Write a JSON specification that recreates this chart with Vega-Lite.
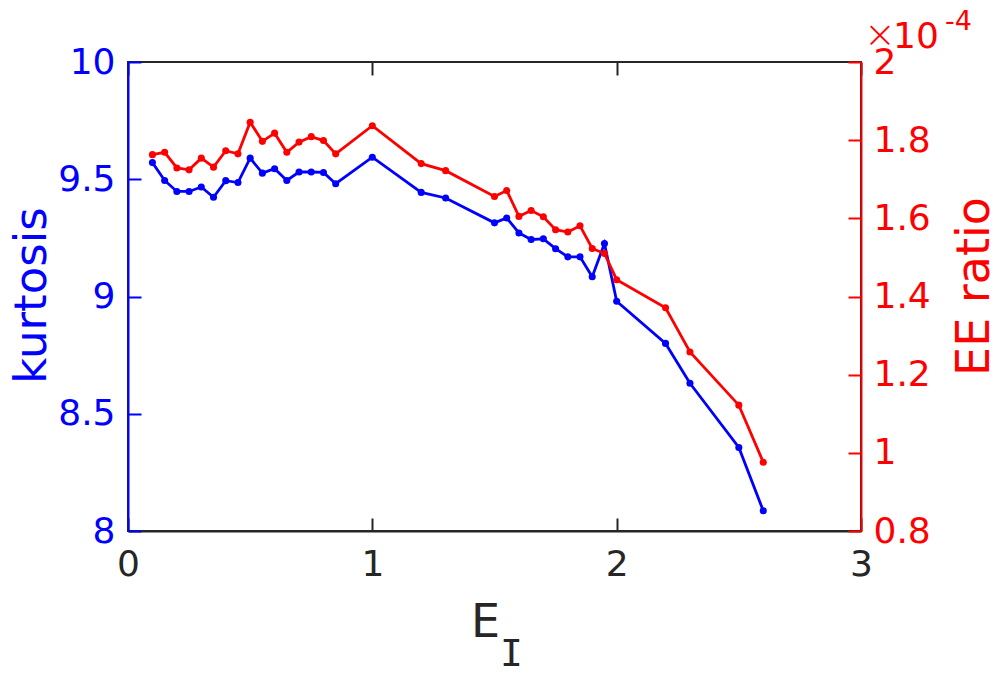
{
  "$schema": "https://vega.github.io/schema/vega-lite/v6.json",
  "width": 733,
  "height": 469,
  "autosize": {"type": "none"},
  "padding": {"left": 128, "top": 62, "right": 141, "bottom": 146},
  "background": "white",
  "config": {
    "view": {"stroke": "#262626", "strokeWidth": 2},
    "font": "DejaVu Sans",
    "axis": {
      "grid": false,
      "labelFont": "DejaVu Sans",
      "titleFont": "DejaVu Sans",
      "labelFontSize": 36,
      "titleFontSize": 45,
      "titleFontWeight": "normal",
      "domainWidth": 2,
      "tickWidth": 2,
      "tickSize": -13,
      "labelFlush": false,
      "labelOverlap": false
    }
  },
  "data": {
    "values": [
      {"E": 0.1, "kurtosis": 9.571, "ee": 1.763},
      {"E": 0.15, "kurtosis": 9.495, "ee": 1.769},
      {"E": 0.2, "kurtosis": 9.448, "ee": 1.729},
      {"E": 0.25, "kurtosis": 9.448, "ee": 1.724},
      {"E": 0.3, "kurtosis": 9.467, "ee": 1.754},
      {"E": 0.35, "kurtosis": 9.423, "ee": 1.731},
      {"E": 0.4, "kurtosis": 9.494, "ee": 1.773},
      {"E": 0.45, "kurtosis": 9.486, "ee": 1.765},
      {"E": 0.5, "kurtosis": 9.59, "ee": 1.846},
      {"E": 0.55, "kurtosis": 9.526, "ee": 1.797},
      {"E": 0.6, "kurtosis": 9.545, "ee": 1.818},
      {"E": 0.65, "kurtosis": 9.495, "ee": 1.769},
      {"E": 0.7, "kurtosis": 9.531, "ee": 1.795},
      {"E": 0.75, "kurtosis": 9.531, "ee": 1.809},
      {"E": 0.8, "kurtosis": 9.529, "ee": 1.799},
      {"E": 0.85, "kurtosis": 9.481, "ee": 1.765},
      {"E": 1.0, "kurtosis": 9.594, "ee": 1.837},
      {"E": 1.2, "kurtosis": 9.444, "ee": 1.74},
      {"E": 1.3, "kurtosis": 9.42, "ee": 1.722},
      {"E": 1.5, "kurtosis": 9.314, "ee": 1.656},
      {"E": 1.55, "kurtosis": 9.335, "ee": 1.671},
      {"E": 1.6, "kurtosis": 9.271, "ee": 1.605},
      {"E": 1.65, "kurtosis": 9.243, "ee": 1.62},
      {"E": 1.7, "kurtosis": 9.246, "ee": 1.604},
      {"E": 1.75, "kurtosis": 9.204, "ee": 1.571},
      {"E": 1.8, "kurtosis": 9.169, "ee": 1.565},
      {"E": 1.85, "kurtosis": 9.169, "ee": 1.581},
      {"E": 1.9, "kurtosis": 9.084, "ee": 1.523},
      {"E": 1.95, "kurtosis": 9.226, "ee": 1.51},
      {"E": 2.0, "kurtosis": 8.98, "ee": 1.443},
      {"E": 2.2, "kurtosis": 8.8, "ee": 1.371},
      {"E": 2.3, "kurtosis": 8.63, "ee": 1.258},
      {"E": 2.5, "kurtosis": 8.356, "ee": 1.122},
      {"E": 2.6, "kurtosis": 8.086, "ee": 0.976}
    ]
  },
  "layer": [
    {
      "layer": [
        {
          "mark": {"type": "line", "color": "#0000FF", "strokeWidth": 2.8, "point": {"filled": true, "color": "#0000FF", "size": 50}},
          "encoding": {
            "x": {
              "field": "E", "type": "quantitative",
              "scale": {"domain": [0, 3], "nice": false, "zero": false},
              "axis": {
                "orient": "bottom", "values": [0, 1, 2, 3], "format": "d",
                "domainColor": "#262626", "tickColor": "#262626", "labelColor": "#262626",
                "labelPadding": 29, "title": "E", "titleColor": "#262626", "titleFontSize": 46,
                "titleBaseline": "alphabetic", "titleY": 105, "titleX": 357
              }
            },
            "y": {
              "field": "kurtosis", "type": "quantitative",
              "scale": {"domain": [8, 10], "nice": false, "zero": false},
              "axis": {
                "orient": "left", "values": [8, 8.5, 9, 9.5, 10], "format": "~g",
                "domainColor": "#0000FF", "tickColor": "#0000FF", "labelColor": "#0000FF",
                "labelPadding": 26, "title": "kurtosis", "titleColor": "#0000FF",
                "titleAngle": 270, "titleBaseline": "alphabetic", "titleX": -83, "titleY": 233
              }
            }
          }
        },
        {
          "data": {"values": [{"label": "I"}]},
          "mark": {"type": "text", "font": "DejaVu Sans Mono", "fontSize": 38, "color": "#262626", "align": "center", "baseline": "alphabetic", "dx": 17, "dy": 135},
          "encoding": {
            "text": {"field": "label"},
            "x": {"datum": 1.5, "type": "quantitative"},
            "y": {"datum": 8, "type": "quantitative"}
          }
        }
      ]
    },
    {
      "layer": [
        {
          "mark": {"type": "line", "color": "#FF0000", "strokeWidth": 2.8, "point": {"filled": true, "color": "#FF0000", "size": 50}},
          "encoding": {
            "x": {
              "field": "E", "type": "quantitative",
              "axis": {
                "orient": "top", "values": [0, 1, 2, 3], "labels": false, "domain": false, "title": null,
                "tickColor": "#262626"
              }
            },
            "y": {
              "field": "ee", "type": "quantitative",
              "scale": {"domain": [0.8, 2], "nice": false, "zero": false},
              "axis": {
                "orient": "right", "values": [0.8, 1, 1.2, 1.4, 1.6, 1.8, 2], "format": "~g",
                "domainColor": "#FF0000", "tickColor": "#FF0000", "labelColor": "#FF0000",
                "labelPadding": 25, "title": "EE ratio", "titleColor": "#FF0000", "titleFontSize": 46,
                "titleAngle": 270, "titleBaseline": "alphabetic", "titleX": 127, "titleY": 224
              }
            }
          }
        },
        {
          "data": {"values": [{"label": "×"}]},
          "mark": {"type": "text", "fontSize": 38, "fontWeight": 200, "font": "DejaVu Sans", "color": "#FF0000", "align": "left", "baseline": "alphabetic", "dx": 3, "dy": -15},
          "encoding": {
            "text": {"field": "label"},
            "x": {"datum": 3, "type": "quantitative"},
            "y": {"datum": 2, "type": "quantitative"}
          }
        },
        {
          "data": {"values": [{"label": "10"}]},
          "mark": {"type": "text", "fontSize": 36, "color": "#FF0000", "align": "left", "baseline": "alphabetic", "dx": 32, "dy": -14},
          "encoding": {
            "text": {"field": "label"},
            "x": {"datum": 3, "type": "quantitative"},
            "y": {"datum": 2, "type": "quantitative"}
          }
        },
        {
          "data": {"values": [{"label": "-4"}]},
          "mark": {"type": "text", "fontSize": 27, "color": "#FF0000", "align": "left", "baseline": "alphabetic", "dx": 84, "dy": -32},
          "encoding": {
            "text": {"field": "label"},
            "x": {"datum": 3, "type": "quantitative"},
            "y": {"datum": 2, "type": "quantitative"}
          }
        }
      ]
    }
  ],
  "resolve": {"scale": {"y": "independent"}, "axis": {"x": "independent"}}
}
